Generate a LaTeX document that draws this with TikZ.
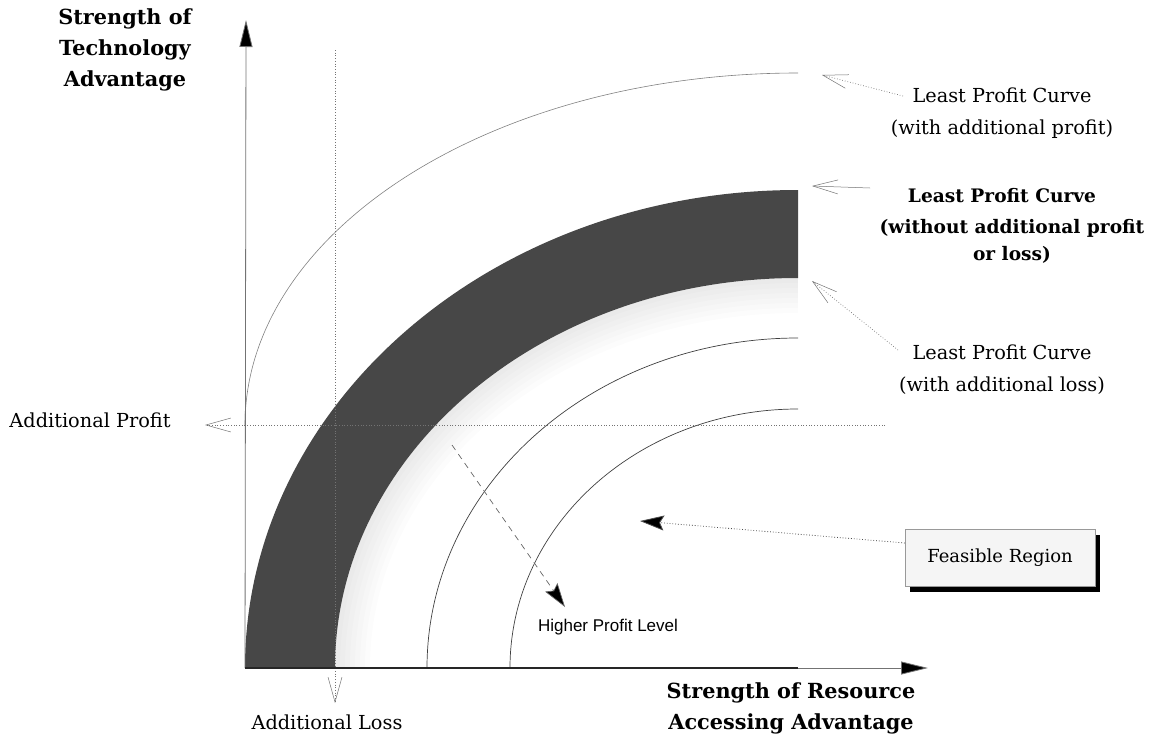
\documentclass[tikz,border=0pt]{standalone}
\usepackage{fontspec}
\setmainfont{DejaVu Serif}
\newfontfamily\sansf{Liberation Sans}
\usetikzlibrary{arrows.meta,shadows}
\begin{document}
\begin{tikzpicture}[x=1pt,y=-1pt,
  lbl/.style={font=\fontsize{19.3}{32}\selectfont, align=center, inner sep=0pt},
  blbl/.style={font=\bfseries\fontsize{18.6}{31}\selectfont, align=center, inner sep=0pt},
  albl/.style={font=\bfseries\fontsize{20.8}{31}\selectfont, align=center, inner sep=0pt},
  axis/.style={draw=black!55, line width=0.8pt, -{Triangle[length=27pt,width=13pt,fill=black]}},
  dotline/.style={draw=black!55, line width=0.7pt, dotted},
  vhead/.style={-{Straight Barb[length=25pt,width=14pt,line width=0.5pt]}},
  bhead/.style={-{Stealth[length=24pt,width=15pt,inset=4pt,fill=black]}},
  curve/.style={draw=black!75, line width=0.7pt},
  boxst/.style={draw=black!40, fill=black!4, minimum width=190pt, minimum height=57pt,
    drop shadow={shadow xshift=5pt, shadow yshift=-5pt, fill=black, opacity=1}}
]
\useasboundingbox (0,0) rectangle (1159,736);

% glow inside the band
\foreach \d in {5,10,...,35}{
  \fill[black, opacity=0.01] (335,668) arc[start angle=180, end angle=90, x radius=463pt, y radius=390pt]
    -- (798,{278+\d}) arc[start angle=90, end angle=180, x radius={(463-\d)*1pt}, y radius={(390-\d)*1pt}] -- cycle;
}

% main band (least profit curve)
\fill[black!72] (245,668) arc[start angle=180, end angle=90, x radius=553pt, y radius=478pt]
  -- (798,278) arc[start angle=90, end angle=180, x radius=463pt, y radius=390pt] -- cycle;

% curve with additional profit
\draw[draw=black!50, line width=0.6pt] (245,425) arc[start angle=180, end angle=90, x radius=553pt, y radius=352pt];
% curves with additional loss
\draw[curve] (427,668) arc[start angle=180, end angle=90, x radius=371pt, y radius=330pt];
\draw[curve] (510,668) arc[start angle=180, end angle=90, x radius=288pt, y radius=259pt];

% coordinates
\coordinate (O) at (245,668);
\coordinate (ytip) at (246,20);
\coordinate (xtip) at (928,668);
\coordinate (vtop) at (335,50);
\coordinate (vtip) at (335,703);
\coordinate (hend) at (885,425);
\coordinate (htip) at (205,425);
\coordinate (xend) at (798,668);

% dotted guide lines with open heads
\draw[dotline, vhead] (vtop) -- (vtip);
\draw[dotline, vhead] (hend) -- (htip);

% axes
\draw[axis] (O) -- (ytip);
\draw[axis] (O) -- (xtip);
\draw[black!85, line width=1.4pt] (O) -- (xend);

% texts
\node[albl] (ylab) at (125,50) {Strength of\\Technology\\Advantage};
\node[albl] (xlab) at (791,708) {Strength of Resource\\Accessing Advantage};
\node[lbl] (toplab) at (1002,113) {Least Profit Curve\\(with additional profit)};
\node[blbl] (midlab1) at (1002,196) {Least Profit Curve};
\node[blbl, font=\bfseries\fontsize{18.6}{27}\selectfont] (midlab2) at (1012,241) {(without additional profit\\or loss)};
\node[lbl] (losslab) at (1002,370) {Least Profit Curve\\(with additional loss)};
\node[lbl] (proflab) at (90,420) {Additional Profit};
\node[lbl] (losstxt) at (327,722) {Additional Loss};
\node[inner sep=0pt, font=\sansf\fontsize{17}{20}\selectfont] (hpl) at (608,627) {Higher Profit Level};
\node[boxst, font=\fontsize{18}{20}\selectfont] (feas) at (1000,558) {Feasible Region};

% label arrows
\coordinate (t1) at (903,96);
\coordinate (h1) at (822,75);
\draw[dotline, vhead] (t1) -- (h1);
\coordinate (t2) at (870,188);
\coordinate (h2) at (812,186);
\draw[draw=black!55, line width=0.5pt, vhead] (t2) -- (h2);
\coordinate (t3) at (898,350);
\coordinate (h3) at (812,281);
\draw[dotline, vhead] (t3) -- (h3);

% higher profit arrow
\coordinate (hp1) at (452,445);
\coordinate (hp2) at (565,607);
\draw[draw=black!60, line width=0.7pt, dash pattern=on 6pt off 5pt, bhead] (hp1) -- (hp2);

% feasible region arrow
\coordinate (fr2) at (640,521);
\draw[draw=black!70, line width=0.8pt, dotted, bhead] (feas.west |- 0,543) -- (fr2);
\end{tikzpicture}
\end{document}
